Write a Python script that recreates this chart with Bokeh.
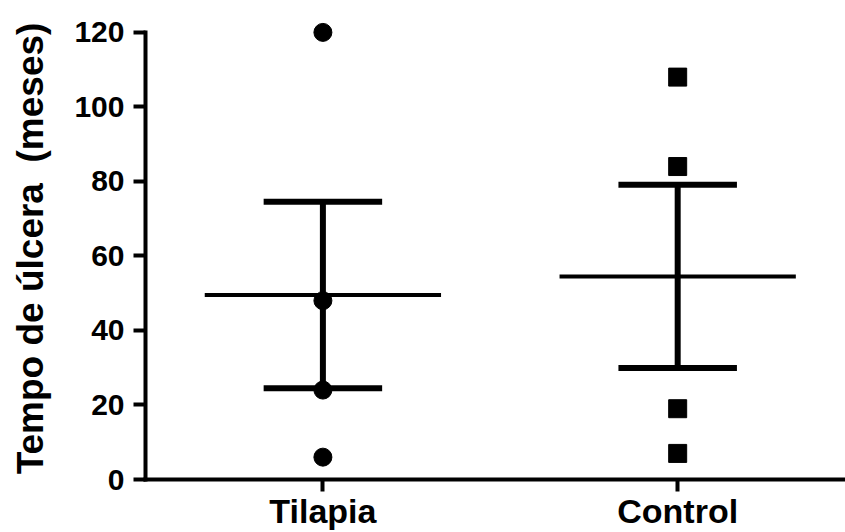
import numpy as np
from bokeh.plotting import figure
from bokeh.models import Range1d, FixedTicker
from bokeh.embed import file_html
from bokeh.resources import INLINE

# ---- data ----
groups = ["Tilapia", "Control"]
group_x = [1, 2]
tilapia_values = [120, 48, 24, 6]
control_values = [108, 84, 19, 7]
y_ticks = [0, 20, 40, 60, 80, 100, 120]
y_label = "Tempo de úlcera\u00a0 (meses)"

FONT = "Liberation Sans"
MEAN_HALF = 0.333
CAP_HALF = 0.167

p = figure(width=845, height=532, output_backend="svg", toolbar_location=None,
           x_range=Range1d(0.5, 2.473), y_range=Range1d(0, 124),
           min_border_left=145, min_border_right=0, min_border_top=17,
           min_border_bottom=52)
p.background_fill_color = "white"
p.border_fill_color = "white"
p.outline_line_color = None
p.xgrid.grid_line_color = None
p.ygrid.grid_line_color = None

series = [tilapia_values, control_values]
markers = ["circle", "square"]

for gx, vals, mk in zip(group_x, series, markers):
    arr = np.array(vals, dtype=float)
    mean = arr.mean()
    sem = arr.std(ddof=1) / np.sqrt(len(arr))
    # points
    p.scatter(x=[gx] * len(vals), y=vals, marker=mk, size=18,
              fill_color="black", line_color="black")
    # mean line
    p.segment(x0=[gx - MEAN_HALF], x1=[gx + MEAN_HALF], y0=[mean], y1=[mean],
              line_color="black", line_width=4)
    # error bar (mean +/- SEM)
    p.segment(x0=[gx], x1=[gx], y0=[mean - sem], y1=[mean + sem],
              line_color="black", line_width=6)
    p.segment(x0=[gx - CAP_HALF, gx - CAP_HALF], x1=[gx + CAP_HALF, gx + CAP_HALF],
              y0=[mean - sem, mean + sem], y1=[mean - sem, mean + sem],
              line_color="black", line_width=6)

# axes
for ax in (p.xaxis[0], p.yaxis[0]):
    ax.axis_line_width = 4
    ax.axis_line_color = "black"
    ax.axis_line_cap = "square"
    ax.major_tick_line_width = 4
    ax.major_tick_line_color = "black"
    ax.major_tick_in = 0
    ax.major_tick_out = 12
    ax.minor_tick_line_color = None
    ax.major_label_text_font = FONT
    ax.major_label_text_font_style = "bold"
    ax.major_label_text_color = "black"

p.yaxis.ticker = FixedTicker(ticks=y_ticks)
p.yaxis.bounds = (0, 120)
p.yaxis.major_label_text_font_size = "30px"
p.yaxis.major_label_standoff = 9
p.yaxis.axis_label = y_label
p.yaxis.axis_label_text_font = FONT
p.yaxis.axis_label_text_font_style = "bold"
p.yaxis.axis_label_text_font_size = "37px"
p.yaxis.axis_label_text_color = "black"
p.yaxis.axis_label_standoff = 20

p.xaxis.ticker = FixedTicker(ticks=group_x)
p.xaxis.major_label_overrides = {gx: g for gx, g in zip(group_x, groups)}
p.xaxis.major_label_text_font_size = "34px"
p.xaxis.major_label_standoff = 0

open("out.html", "w").write(file_html(p, INLINE))
